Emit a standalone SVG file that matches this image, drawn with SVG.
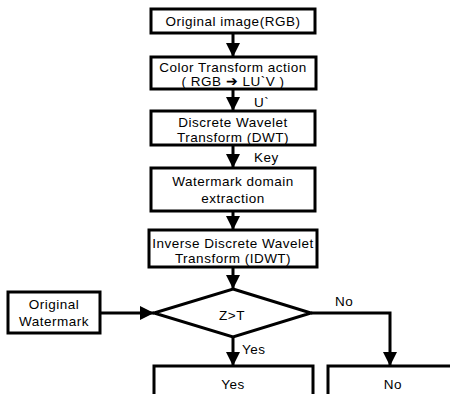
<svg xmlns="http://www.w3.org/2000/svg" width="450" height="394" viewBox="0 0 450 394">
<style>
.box{fill:#fff;stroke:#000;stroke-width:3}
.t{font-family:"Liberation Sans",Arial,sans-serif;font-size:13.5px;fill:#000;text-anchor:middle;letter-spacing:0.5px}
.lbl{font-family:"Liberation Sans",Arial,sans-serif;font-size:13.5px;fill:#000;letter-spacing:0.5px}
.ln{fill:none;stroke:#000;stroke-width:3}
</style>
<defs>
<marker id="ah" markerUnits="userSpaceOnUse" markerWidth="16" markerHeight="16" viewBox="0 0 16 16" refX="14" refY="8" orient="auto">
<path d="M0,1 L14,8 L0,15 Z" fill="#000"/>
</marker>
</defs>
<rect width="450" height="394" fill="#fff"/>
<g id="connectors">
<line class="ln" x1="233" y1="33" x2="233" y2="57" marker-end="url(#ah)"/>
<line class="ln" x1="233" y1="89" x2="233" y2="111" marker-end="url(#ah)"/>
<line class="ln" x1="233" y1="145" x2="233" y2="168" marker-end="url(#ah)"/>
<line class="ln" x1="233" y1="211" x2="233" y2="230" marker-end="url(#ah)"/>
<line class="ln" x1="233" y1="267" x2="233" y2="289" marker-end="url(#ah)"/>
<line class="ln" x1="100" y1="313" x2="154" y2="313" marker-end="url(#ah)"/>
<line class="ln" x1="233" y1="337" x2="233" y2="366" marker-end="url(#ah)"/>
<polyline class="ln" points="311,313 390,313 390,366" marker-end="url(#ah)"/>
<text class="lbl" x="254" y="107">U`</text>
<text class="lbl" x="254" y="162">Key</text>
<text class="lbl" x="242" y="354">Yes</text>
<text class="lbl" x="335" y="306">No</text>
</g>
<g id="n1"><rect class="box" x="151" y="9" width="164" height="24"/><text class="t" x="233" y="26">Original image(RGB)</text></g>
<g id="n2"><rect class="box" x="151" y="57" width="165" height="32"/><text class="t" x="233" y="72">Color Transform action</text><text class="t" x="233" y="86">( RGB ➔ LU`V )</text></g>
<g id="n3"><rect class="box" x="151" y="111" width="164" height="34"/><text class="t" x="233" y="127">Discrete Wavelet</text><text class="t" x="233" y="142">Transform (DWT)</text></g>
<g id="n4"><rect class="box" x="151" y="168" width="164" height="43"/><text class="t" x="233" y="186">Watermark domain</text><text class="t" x="233" y="203">extraction</text></g>
<g id="n5"><rect class="box" x="149" y="230" width="168" height="37"/><text class="t" x="233" y="248">Inverse Discrete Wavelet</text><text class="t" x="233" y="263">Transform (IDWT)</text></g>
<g id="n6"><polygon class="box" points="233,289 311,313 233,337 154,313"/><text class="t" x="232" y="320">Z&gt;T</text></g>
<g id="n7"><rect class="box" x="8" y="292" width="92" height="41"/><text class="t" x="54" y="309">Original</text><text class="t" x="54" y="326">Watermark</text></g>
<g id="n8"><rect class="box" x="154" y="366" width="159" height="40"/><text class="t" x="233" y="389">Yes</text></g>
<g id="n9"><rect class="box" x="328" y="366" width="130" height="40"/><text class="t" x="393" y="389">No</text></g>
</svg>
